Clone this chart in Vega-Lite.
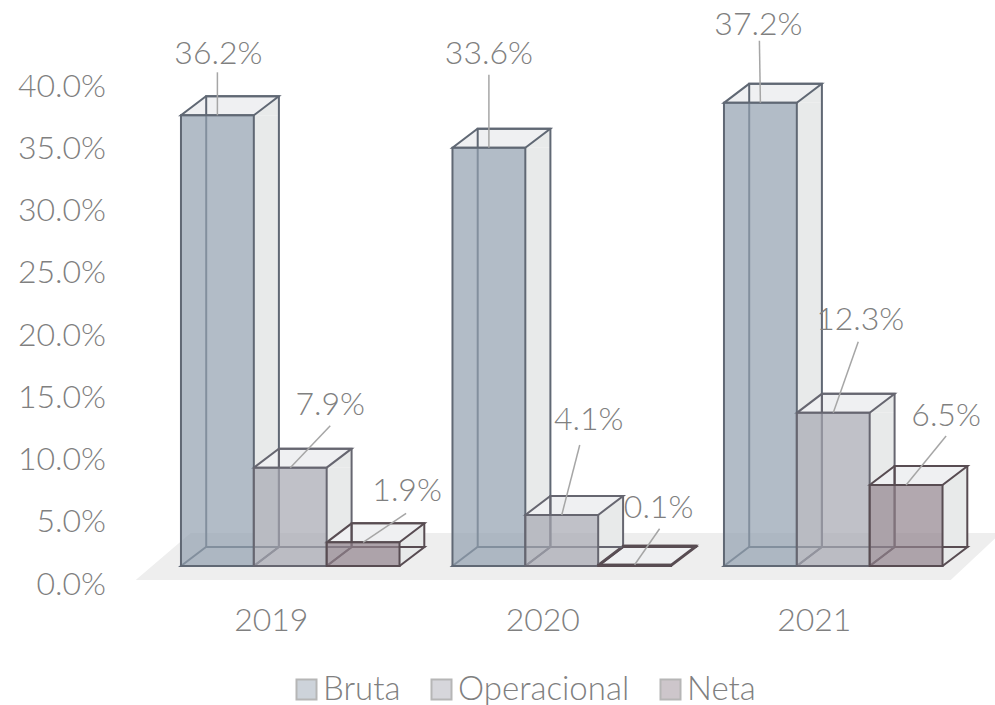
{
"$schema":"https://vega.github.io/schema/vega-lite/v6.json",
"width":814.5,"height":560.25,
"autosize":{"type":"none"},
"padding":{"left":154.5,"top":5.75,"right":26,"bottom":139},
"background":"#ffffff",
"config":{"view":{"stroke":null},"text":{"font":"Lato","fontWeight":300}},
"data":{"values":[
{"year":"2019","series":"Bruta","value":0.362},
{"year":"2019","series":"Operacional","value":0.079},
{"year":"2019","series":"Neta","value":0.019},
{"year":"2020","series":"Bruta","value":0.336},
{"year":"2020","series":"Operacional","value":0.041},
{"year":"2020","series":"Neta","value":0.001},
{"year":"2021","series":"Bruta","value":0.372},
{"year":"2021","series":"Operacional","value":0.123},
{"year":"2021","series":"Neta","value":0.065}
]},
"encoding":{
"x":{"field":"year","type":"nominal","title":null,"scale":{"type":"band","paddingInner":0.195,"paddingOuter":0.0975},
"axis":{"domain":false,"ticks":false,"labelAngle":0,"labelFont":"Lato","labelFontWeight":300,"labelFontSize":32,"labelColor":"#808080","labelOffset":-19,"labelPadding":39,"labelBaseline":"top","grid":false}},
"xOffset":{"field":"series","type":"nominal","sort":["Bruta","Operacional","Neta"],"scale":{"type":"band","paddingInner":0,"paddingOuter":0}},
"y":{"field":"value","type":"quantitative","stack":null,"title":null,"scale":{"domain":[0,0.45],"nice":false},
"axis":{"domain":false,"ticks":false,"grid":false,"values":[0,0.05,0.1,0.15,0.2,0.25,0.3,0.35,0.4],"format":".1%","labelFont":"Lato","labelFontWeight":300,"labelFontSize":32,"labelColor":"#808080","labelOffset":18,"labelPadding":49}}
},
"layer":[
{"transform":[{"filter":"datum.year=='2020'&&datum.series=='Operacional'"}],
 "mark":{"type":"point","shape":"M-426,14L389,14L439,-33L-371,-33Z","size":4,"filled":true,"fill":"#eeeeee","opacity":1,"strokeWidth":0,"clip":false},
 "encoding":{"y":{"datum":0}}},
{"transform":[{"filter":"datum.value>0.01"}],
 "layer":[
 {"transform":[{"filter":"datum.series=='Bruta'"}],"mark":{"type":"bar","width":25,"xOffset":-23.8,"y2Offset":-19,"fill":"#e8eaea"},"encoding":{"xOffset":null,"y2":{"datum":0}}},
 {"transform":[{"filter":"datum.series=='Operacional'"}],"mark":{"type":"bar","width":25,"xOffset":48.9,"y2Offset":-19,"fill":"#e8eaea"},"encoding":{"xOffset":null,"y2":{"datum":0}}},
 {"transform":[{"filter":"datum.series=='Neta'"}],"mark":{"type":"bar","width":25,"xOffset":121.6,"y2Offset":-19,"fill":"#e8eaea"},"encoding":{"xOffset":null,"y2":{"datum":0}}},
 {"mark":{"type":"point","shape":"M36.4,0L61.4,-19L61.4,0Z","size":4,"filled":true,"fill":"#e8eaea","opacity":1,"strokeWidth":0}},
 {"mark":{"type":"point","shape":"M36.4,0L61.4,-19L36.4,-19Z","size":4,"filled":true,"fill":"#e8eaea","opacity":1,"strokeWidth":0},"encoding":{"y":{"datum":0}}}
 ]},
{"mark":{"type":"point","shape":"M-36.4,0L36.4,0L61.4,-19L-11.4,-19Z","size":4,"filled":true,"fill":"#eff0f2","opacity":1,"strokeWidth":2},
 "encoding":{"stroke":{"condition":[{"test":"datum.series=='Bruta'","value":"#606874"},{"test":"datum.series=='Neta'","value":"#584c52"}],"value":"#666670"}}},
{"mark":{"type":"point","shape":"M-36.4,0L36.4,0L61.4,-19L-11.4,-19Z","size":4,"filled":false,"opacity":1,"strokeWidth":2},
 "encoding":{"y":{"datum":0},"stroke":{"condition":[{"test":"datum.series=='Bruta'","value":"#606874"},{"test":"datum.series=='Neta'","value":"#584c52"}],"value":"#666670"}}},
{"transform":[{"filter":"datum.series=='Bruta'"}],"mark":{"type":"bar","width":72.7,"xOffset":-47.7,"yOffset":-19,"y2Offset":-19,"fill":"transparent","stroke":"#606874","strokeWidth":2},"encoding":{"xOffset":null,"y2":{"datum":0}}},
{"transform":[{"filter":"datum.series=='Operacional'"}],"mark":{"type":"bar","width":72.7,"xOffset":25,"yOffset":-19,"y2Offset":-19,"fill":"transparent","stroke":"#666670","strokeWidth":2},"encoding":{"xOffset":null,"y2":{"datum":0}}},
{"transform":[{"filter":"datum.series=='Neta'"}],"mark":{"type":"bar","width":72.7,"xOffset":97.7,"yOffset":-19,"y2Offset":-19,"fill":"transparent","stroke":"#584c52","strokeWidth":2},"encoding":{"xOffset":null,"y2":{"datum":0}}},
{"mark":{"type":"bar","fillOpacity":0.7,"strokeWidth":2},
 "encoding":{"y2":{"datum":0},
 "fill":{"field":"series","type":"nominal","title":null,"sort":["Bruta","Operacional","Neta"],
  "scale":{"domain":["Bruta","Operacional","Neta"],"range":["#919faf","#a5a6b0","#92838d"]},
  "legend":{"orient":"none","direction":"horizontal","columns":3,"legendX":135.5,"legendY":667,"padding":0,"title":null,"symbolType":"square","symbolSize":400,"symbolOpacity":0.45,"symbolStrokeColor":"#606060","symbolStrokeWidth":2,"labelFont":"Lato","labelFontWeight":300,"labelFontSize":33,"labelColor":"#808080","labelOffset":0,"labelLimit":400,"columnPadding":24}},
 "stroke":{"condition":[{"test":"datum.series=='Bruta'","value":"#606874"},{"test":"datum.series=='Neta'","value":"#584c52"}],"value":"#666670"}}},
{"transform":[{"filter":"datum.year=='2019'&&datum.series=='Bruta'"}],"layer":[
 {"mark":{"type":"point","shape":"M0,0L0,-43","size":4,"filled":false,"opacity":1,"stroke":"#a6a6a6","strokeWidth":1.5}},
 {"mark":{"type":"text","fontSize":32,"color":"#808080","dx":1,"dy":-61},"encoding":{"text":{"field":"value","format":".1%"}}}]},
{"transform":[{"filter":"datum.year=='2019'&&datum.series=='Operacional'"}],"layer":[
 {"mark":{"type":"point","shape":"M0,0L40,-42","size":4,"filled":false,"opacity":1,"stroke":"#a6a6a6","strokeWidth":1.5}},
 {"mark":{"type":"text","fontSize":32,"color":"#808080","dx":40,"dy":-63},"encoding":{"text":{"field":"value","format":".1%"}}}]},
{"transform":[{"filter":"datum.year=='2019'&&datum.series=='Neta'"}],"layer":[
 {"mark":{"type":"point","shape":"M0,0L43,-29","size":4,"filled":false,"opacity":1,"stroke":"#a6a6a6","strokeWidth":1.5}},
 {"mark":{"type":"text","fontSize":32,"color":"#808080","dx":44,"dy":-51},"encoding":{"text":{"field":"value","format":".1%"}}}]},
{"transform":[{"filter":"datum.year=='2020'&&datum.series=='Bruta'"}],"layer":[
 {"mark":{"type":"point","shape":"M0,0L0,-73","size":4,"filled":false,"opacity":1,"stroke":"#a6a6a6","strokeWidth":1.5}},
 {"mark":{"type":"text","fontSize":32,"color":"#808080","dx":0,"dy":-94},"encoding":{"text":{"field":"value","format":".1%"}}}]},
{"transform":[{"filter":"datum.year=='2020'&&datum.series=='Operacional'"}],"layer":[
 {"mark":{"type":"point","shape":"M0,0L18,-70","size":4,"filled":false,"opacity":1,"stroke":"#a6a6a6","strokeWidth":1.5}},
 {"mark":{"type":"text","fontSize":32,"color":"#808080","dx":27,"dy":-95},"encoding":{"text":{"field":"value","format":".1%"}}}]},
{"transform":[{"filter":"datum.year=='2020'&&datum.series=='Neta'"}],"layer":[
 {"mark":{"type":"point","shape":"M0,0L25,-36","size":4,"filled":false,"opacity":1,"stroke":"#a6a6a6","strokeWidth":1.5}},
 {"mark":{"type":"text","fontSize":32,"color":"#808080","dx":24,"dy":-57},"encoding":{"text":{"field":"value","format":".1%"}}}]},
{"transform":[{"filter":"datum.year=='2021'&&datum.series=='Bruta'"}],"layer":[
 {"mark":{"type":"point","shape":"M0,0L-1,-62","size":4,"filled":false,"opacity":1,"stroke":"#a6a6a6","strokeWidth":1.5}},
 {"mark":{"type":"text","fontSize":32,"color":"#808080","dx":-2,"dy":-78},"encoding":{"text":{"field":"value","format":".1%"}}}]},
{"transform":[{"filter":"datum.year=='2021'&&datum.series=='Operacional'"}],"layer":[
 {"mark":{"type":"point","shape":"M0,0L25,-71","size":4,"filled":false,"opacity":1,"stroke":"#a6a6a6","strokeWidth":1.5}},
 {"mark":{"type":"text","fontSize":32,"color":"#808080","dx":27,"dy":-93},"encoding":{"text":{"field":"value","format":".1%"}}}]},
{"transform":[{"filter":"datum.year=='2021'&&datum.series=='Neta'"}],"layer":[
 {"mark":{"type":"point","shape":"M0,0L40,-49","size":4,"filled":false,"opacity":1,"stroke":"#a6a6a6","strokeWidth":1.5}},
 {"mark":{"type":"text","fontSize":32,"color":"#808080","dx":40,"dy":-69},"encoding":{"text":{"field":"value","format":".1%"}}}]}
]
}
